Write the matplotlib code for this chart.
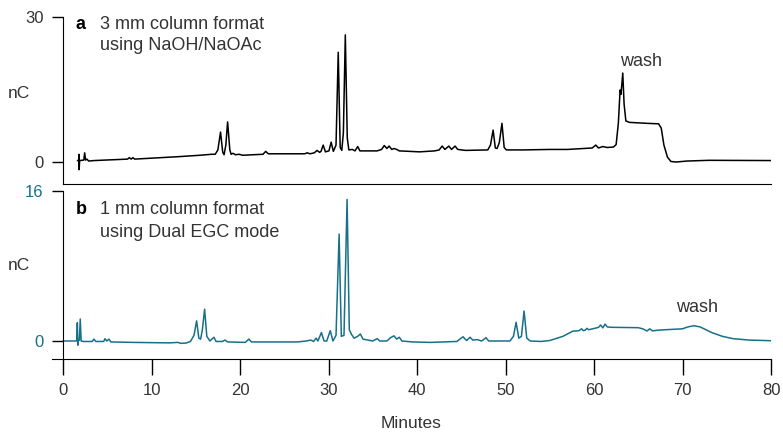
import numpy as np
import matplotlib
matplotlib.use('Agg')
import matplotlib.pyplot as plt

plt.rcParams['font.family'] = ['Liberation Sans', 'DejaVu Sans']

teal = '#17708a'
grey = '#333333'

# panel a: 3 mm column, NaOH/NaOAc  (minutes, nC)
t_a = [1.65, 1.78, 1.8, 1.82, 1.88, 2.35, 2.45, 2.55, 2.7, 2.9, 3.5, 7.3, 7.5, 7.7, 7.9, 8.1,
       13.0, 15.5, 16.8, 17.2, 17.5, 17.8, 18.05, 18.2, 18.4, 18.6, 18.85, 19.0, 19.2, 19.5,
       19.9, 20.3, 22.6, 22.9, 23.2, 27.3, 27.6, 27.9, 28.4, 28.7, 29.0, 29.15, 29.4, 29.65,
       30.05, 30.3, 30.55, 30.85, 31.1, 31.32, 31.5, 31.68, 31.9, 32.12, 32.3, 32.7, 33.0,
       33.3, 33.55, 35.5, 36.0, 36.3, 36.6, 36.85, 37.15, 37.4, 37.7, 38.0, 40.3, 42.0, 42.5,
       42.85, 43.15, 43.6, 43.9, 44.3, 44.6, 45.5, 48.0, 48.3, 48.6, 48.85, 49.05, 49.3,
       49.6, 49.85, 50.1, 52.0, 55.0, 57.0, 59.8, 60.2, 60.5, 61.0, 61.5, 62.2, 62.5, 62.75,
       62.95, 63.05, 63.25, 63.4, 63.6, 64.0, 66.0, 67.3, 67.6, 67.9, 68.3, 68.7, 69.3, 70.5,
       73.0, 80.0]
y_a = [0.3, 0.3, 1.6, -1.6, 0.3, 0.4, 1.9, 0.4, 0.6, 0.2, 0.3, 0.6, 0.9, 0.6, 0.9, 0.6,
       1.1, 1.4, 1.6, 1.6, 2.5, 6.2, 2.0, 1.5, 3.5, 8.3, 2.5, 1.6, 1.8, 1.5,
       1.6, 1.4, 1.6, 2.2, 1.7, 1.7, 1.9, 1.7, 1.9, 2.4, 2.0, 2.2, 3.5, 2.1,
       2.3, 4.1, 2.2, 3.5, 22.7, 3.0, 2.4, 6.0, 26.3, 5.0, 2.5, 2.6, 2.3,
       3.2, 2.3, 2.3, 2.6, 3.4, 2.8, 3.3, 2.6, 2.8, 2.6, 2.3, 2.1, 2.3, 2.5,
       3.3, 2.6, 3.3, 2.6, 3.3, 2.6, 2.4, 2.5, 3.5, 6.6, 2.9, 2.8, 4.0,
       8.0, 3.0, 2.5, 2.5, 2.6, 2.6, 2.9, 3.5, 2.9, 3.2, 3.0, 3.1, 3.6, 8.0,
       14.9, 14.0, 18.4, 12.0, 8.5, 8.2, 8.0, 7.9, 7.0, 3.5, 1.0, 0.1, 0.0, 0.2,
       0.35, 0.3]

# panel b: 1 mm column, Dual EGC mode  (minutes, nC)
t_b = [0.0, 1.55, 1.62, 1.68, 1.75, 1.85, 1.95, 2.05, 2.3, 3.3, 3.5, 3.7, 4.6, 4.75, 4.95,
       5.2, 5.4, 8.0, 12.0, 13.0, 13.3, 13.9, 14.4, 14.8, 15.1, 15.35, 15.55, 15.75, 16.0,
       16.25, 16.6, 17.05, 17.3, 18.0, 18.3, 18.6, 20.6, 21.0, 21.3, 26.5, 27.5, 28.0, 28.3,
       28.6, 28.8, 29.2, 29.5, 29.8, 30.2, 30.5, 30.85, 31.2, 31.45, 31.75, 32.1, 32.35,
       32.6, 32.9, 33.3, 33.6, 33.9, 35.0, 35.5, 35.8, 36.6, 37.0, 37.4, 37.7, 38.0, 38.3,
       39.5, 41.5, 43.0, 44.5, 45.2, 45.6, 46.0, 46.3, 46.8, 47.3, 47.8, 48.1, 50.5, 50.9,
       51.2, 51.5, 51.8, 52.1, 52.4, 52.8, 54.0, 55.0, 56.5, 57.6, 58.3, 58.6, 58.8, 59.0,
       59.2, 59.4, 60.5, 60.75, 61.0, 61.25, 61.5, 62.0, 65.0, 65.5, 66.0, 66.3, 66.6, 67.2,
       68.0, 70.0, 70.6, 71.3, 72.0, 73.3, 74.5, 75.7, 77.5, 80.0]
y_b = [0.0, 0.0, 1.95, -0.45, 0.1, 0.1, 2.35, 0.0, -0.05, -0.05, 0.2, -0.05, -0.05, 0.25, 0.0,
       0.2, -0.1, -0.15, -0.2, -0.15, -0.25, -0.22, -0.05, 0.6, 2.15, 0.3, 0.2, 1.2, 3.4,
       0.5, 0.0, 0.4, -0.05, -0.05, 0.1, -0.1, -0.15, 0.2, -0.1, -0.1, 0.0, 0.1, -0.05,
       0.3, 0.0, 0.9, 0.0, 0.0, 1.1, 0.0, 0.6, 11.4, 0.5, 0.6, 15.1, 1.2,
       0.7, 0.3, 0.5, 0.75, 0.2, 0.0, 0.25, 0.0, 0.0, 0.35, 0.55, 0.2, 0.4, 0.0,
       -0.1, -0.15, -0.1, -0.05, 0.45, 0.05, 0.4, 0.1, 0.15, 0.0, 0.35, 0.0, 0.0, 0.5,
       2.0, 0.3, 0.5, 3.2, 0.3, 0.0, -0.05, 0.05, 0.5, 1.05, 1.1, 1.3, 1.1, 1.15,
       1.35, 1.2, 1.45, 1.7, 1.4, 1.8, 1.5, 1.46, 1.42, 1.3, 1.07, 1.3, 1.08, 1.15,
       1.2, 1.3, 1.5, 1.63, 1.5, 0.9, 0.5, 0.25, 0.1, 0.03]

x_ticks = [0, 10, 20, 30, 40, 50, 60, 70, 80]

W, H = 783, 438
fig = plt.figure(figsize=(W / 100, H / 100), dpi=100)

def rect(l, t, r, b):
    return [l / W, 1 - b / H, (r - l) / W, (b - t) / H]

xmin = -11 / 8.85
fs = 13

# panel a
ax1 = fig.add_axes(rect(52, 17, 771, 184))
ax1.plot(t_a, y_a, color='black', lw=1.1)
ax1.set_xlim(xmin, 80)
ax1.set_ylim(-4.55, 30)
for s in ['top', 'right']:
    ax1.spines[s].set_visible(False)
ax1.spines['left'].set_position(('data', 0))
ax1.spines['bottom'].set_bounds(0, 80)
ax1.set_xticks([])
ax1.set_yticks([0, 30])
ax1.tick_params(axis='y', length=8, width=1.0, pad=6, labelsize=12, labelcolor=grey)
ax1.text(1.45, 28.4, 'a', fontsize=fs, fontweight='bold', color='black', va='center')
ax1.text(4.2, 28.4, '3 mm column format', fontsize=fs, color=grey, va='center')
ax1.text(4.2, 24.2, 'using NaOH/NaOAc', fontsize=fs, color=grey, va='center')
ax1.text(65.3, 20.7, 'wash', fontsize=fs, color=grey, ha='center', va='center')

# panel b
ax2 = fig.add_axes(rect(52, 191, 771, 359))
ax2.plot(t_b, y_b, color=teal, lw=1.1)
ax2.set_xlim(xmin, 80)
ax2.set_ylim(-1.92, 16)
for s in ['top', 'right']:
    ax2.spines[s].set_visible(False)
ax2.spines['left'].set_position(('data', 0))
ax2.set_yticks([0, 16])
ax2.tick_params(axis='y', length=8, width=1.0, pad=6, labelsize=12, labelcolor=teal)
ax2.set_xticks(x_ticks)
ax2.tick_params(axis='x', length=11.5, width=1.0, pad=6, labelsize=12, labelcolor=grey)
ax2.text(1.45, 14.0, 'b', fontsize=fs, fontweight='bold', color='black', va='center')
ax2.text(4.2, 14.0, '1 mm column format', fontsize=fs, color=grey, va='center')
ax2.text(4.2, 11.6, 'using Dual EGC mode', fontsize=fs, color=grey, va='center')
ax2.text(71.6, 3.6, 'wash', fontsize=fs, color=grey, ha='center', va='center')

fig.text(19 / W, 1 - 93 / H, 'nC', fontsize=12.5, color=grey, ha='center', va='center')
fig.text(19 / W, 1 - 265 / H, 'nC', fontsize=12.5, color=grey, ha='center', va='center')
fig.text(411 / W, 1 - 424 / H, 'Minutes', fontsize=12.5, color=grey, ha='center', va='center')

fig.savefig('out.png', dpi=100)
